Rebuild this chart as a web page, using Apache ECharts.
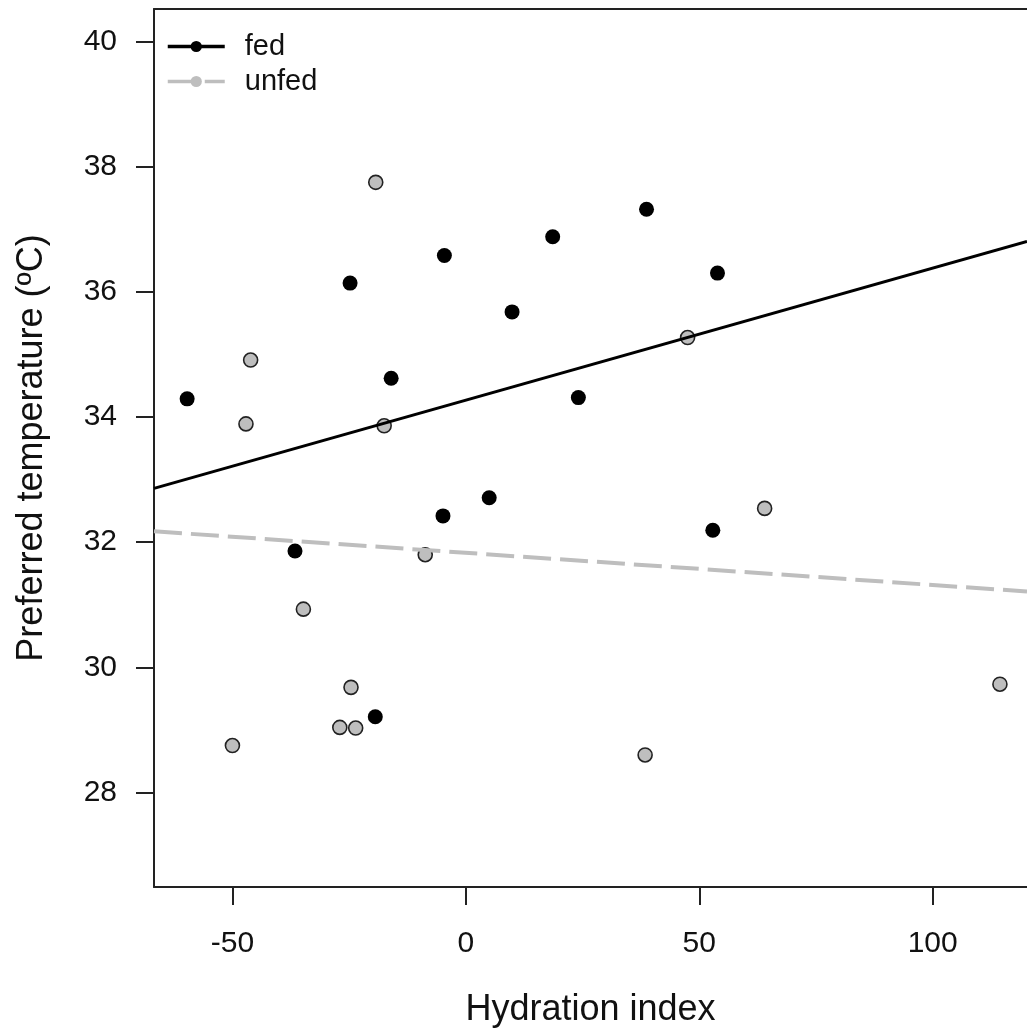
<!DOCTYPE html>
<html>
<head>
<meta charset="utf-8">
<script src="https://cdn.jsdelivr.net/npm/echarts@6/dist/echarts.min.js"></script>
<style>
    html, body {margin: 0; padding: 0; background: #fff;}
    #chart {width: 1027px; height: 1034px;}
</style>
</head>
<body>
<div id="chart"></div>
<script>
// fed animals
const fedX = [18.6, -4.6, -24.8, 9.9, -16.0, -59.7, 24.1, 38.7, 53.9, 5.0, -4.9, -36.6, -19.4, 52.9];
const fedY = [36.88, 36.58, 36.14, 35.68, 34.62, 34.29, 34.31, 37.32, 36.30, 32.71, 32.42, 31.86, 29.21, 32.19];
// unfed animals
const unfedX = [-19.3, -46.1, -47.1, -17.5, 47.5, 64.0, -8.7, -34.8, -24.6, -27.0, -23.6, -50.0, 114.4, 38.4];
const unfedY = [37.75, 34.91, 33.89, 33.86, 35.27, 32.54, 31.80, 30.93, 29.68, 29.04, 29.03, 28.75, 29.73, 28.60];

// linear fits (intercept, slope)
const fedFit = [34.27, 0.0211];
const unfedFit = [31.83, -0.00514];

const xRange = [-66.8, 120.2];
const yRange = [26.49, 40.52];
const xTicks = [-50, 0, 50, 100];
const yTicks = [28, 30, 32, 34, 36, 38, 40];

const FONT = "'Liberation Sans', Arial, Helvetica, sans-serif";
const GREY = '#bebebe';

function pairs(xs, ys) {
    return xs.map((x, i) => [x, ys[i]]);
}
function fitLine(fit) {
    return xRange.map(x => [x, fit[0] + fit[1] * x]);
}

var chart = echarts.init(document.getElementById('chart'));

var option = {
    animation: false,
    backgroundColor: '#fff',
    textStyle: {fontFamily: FONT},
    grid: {
        left: 154, right: 0, top: 9, bottom: 147,
        containLabel: false,
        outerBoundsMode: 'none'
    },
    legend: {
        data: ['fed', 'unfed'],
        orient: 'vertical',
        left: 161,
        top: 27,
        itemWidth: 57,
        itemHeight: 14,
        itemGap: 6,
        lineStyle: {width: 3.5},
        textStyle: {fontSize: 29, color: '#111', fontFamily: FONT, padding: [0, 0, 0, 15]}
    },
    xAxis: [{
        type: 'value',
        min: xRange[0], max: xRange[1],
        name: 'Hydration index',
        nameLocation: 'middle',
        nameGap: 105,
        nameTextStyle: {fontSize: 36, color: '#111', fontFamily: FONT},
        axisLine: {show: true, onZero: false, lineStyle: {color: '#222', width: 2}},
        axisTick: {show: true, length: 18, customValues: xTicks, lineStyle: {color: '#222', width: 2}},
        axisLabel: {customValues: xTicks, margin: 42, fontSize: 30, color: '#111', fontFamily: FONT},
        splitLine: {show: false}
    }, {
        type: 'value',
        position: 'top',
        min: xRange[0], max: xRange[1],
        axisLine: {show: true, onZero: false, lineStyle: {color: '#222', width: 2}},
        axisTick: {show: false},
        axisLabel: {show: false},
        splitLine: {show: false}
    }],
    yAxis: {
        type: 'value',
        min: yRange[0], max: yRange[1],
        name: 'Preferred temperature (ºC)',
        nameLocation: 'middle',
        nameGap: 104,
        nameTextStyle: {fontSize: 36, color: '#111', fontFamily: FONT},
        axisLine: {show: true, onZero: false, lineStyle: {color: '#222', width: 2}},
        axisTick: {show: true, length: 18, customValues: yTicks, lineStyle: {color: '#222', width: 2}},
        axisLabel: {customValues: yTicks, margin: 37, fontSize: 30, color: '#111', fontFamily: FONT},
        splitLine: {show: false}
    },
    series: [
        {
            name: 'fed',
            type: 'line',
            data: fitLine(fedFit),
            showSymbol: false,
            symbol: 'circle',
            symbolSize: 14,
            itemStyle: {color: '#000'},
            lineStyle: {color: '#000', width: 3},
            z: 4
        },
        {
            name: 'unfed',
            type: 'line',
            data: fitLine(unfedFit),
            showSymbol: false,
            symbol: 'circle',
            symbolSize: 14,
            itemStyle: {color: GREY},
            lineStyle: {color: GREY, width: 4, type: [28, 9]},
            z: 4
        },
        {
            name: 'fed',
            type: 'scatter',
            data: pairs(fedX, fedY),
            symbol: 'circle',
            symbolSize: 15,
            itemStyle: {color: '#000', opacity: 1},
            z: 2
        },
        {
            name: 'unfed',
            type: 'scatter',
            data: pairs(unfedX, unfedY),
            symbol: 'circle',
            symbolSize: 14,
            itemStyle: {color: GREY, borderColor: '#222', borderWidth: 1.6, opacity: 1},
            z: 2
        }
    ]
};

chart.setOption(option);
</script>
</body>
</html>
